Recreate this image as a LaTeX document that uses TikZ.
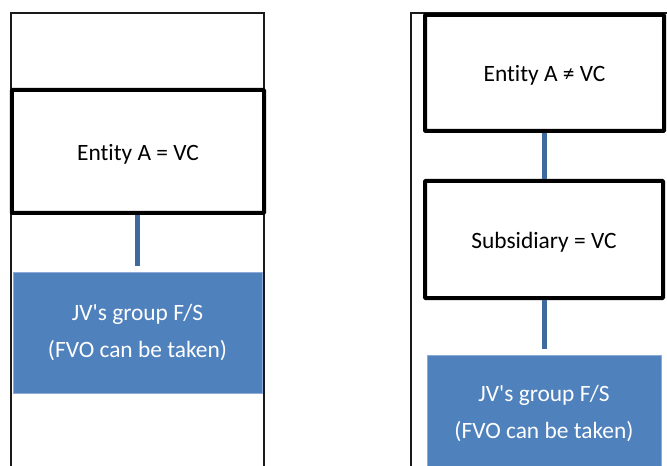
\documentclass[tikz,border=0pt]{standalone}
\usepackage{fontspec}
\setmainfont{Carlito}[Ligatures={NoCommon}]
\definecolor{jvblue}{HTML}{4F81BD}
\definecolor{jvedge}{HTML}{8EAADB}
\definecolor{linkblue}{HTML}{3E6A9E}
\definecolor{framegray}{HTML}{1A1A1A}
\begin{document}
\begin{tikzpicture}[x=1bp,y=-1bp,
  entitybox/.style={draw=black,line width=4bp,fill=white,rounded corners=0.8bp,
    inner sep=0pt,text=black,text height=23bp,text depth=5bp,
    font=\fontsize{23.5}{28}\selectfont},
  jvbox/.style={draw=jvedge,line width=0.8bp,fill=jvblue,inner sep=0pt,text=white,
    align=center,font=\fontsize{23.5}{37}\selectfont},
  link/.style={draw=linkblue,line width=5bp},
  frame/.style={draw=framegray,line width=1.5bp}]
\useasboundingbox (0,0) rectangle (667,466);
\begin{scope}
\clip (0,0) rectangle (667,466);
% frames
\coordinate (lfb) at (11,466);
\coordinate (lft) at (11,13);
\coordinate (lrt) at (264,13);
\coordinate (lrb) at (264,466);
\draw[frame] (lfb) -- (lft) -- (lrt) -- (lrb);
\coordinate (rfb) at (411,466);
\coordinate (rft) at (411,13);
\coordinate (rrt) at (667,13);
\draw[frame] (rfb) -- (rft) -- (rrt);
% left column
\node[entitybox,minimum width=252bp,minimum height=123bp] (A) at (138,151.5) {Entity A = VC};
\node[jvbox,minimum width=249bp,minimum height=121bp] (JVL) at (137.5,332.5) {JV\textquotesingle s group F/S\\(FVO can be taken)};
\coordinate (lk1) at (137,266);
\draw[link] (A.south -| lk1) -- (lk1);
% right column
\node[entitybox,minimum width=239bp,minimum height=116bp] (B) at (544.5,73) {Entity A ≠ VC};
\node[entitybox,minimum width=238bp,minimum height=117bp] (S) at (544,239.5) {Subsidiary = VC};
\node[jvbox,minimum width=234bp,minimum height=117bp] (JVR) at (544,413.5) {JV\textquotesingle s group F/S\\(FVO can be taken)};
\draw[link] (B.south -| 544,0) -- (S.north -| 544,0);
\coordinate (lk2) at (544,349);
\draw[link] (S.south -| lk2) -- (lk2);
\end{scope}
\end{tikzpicture}
\end{document}
